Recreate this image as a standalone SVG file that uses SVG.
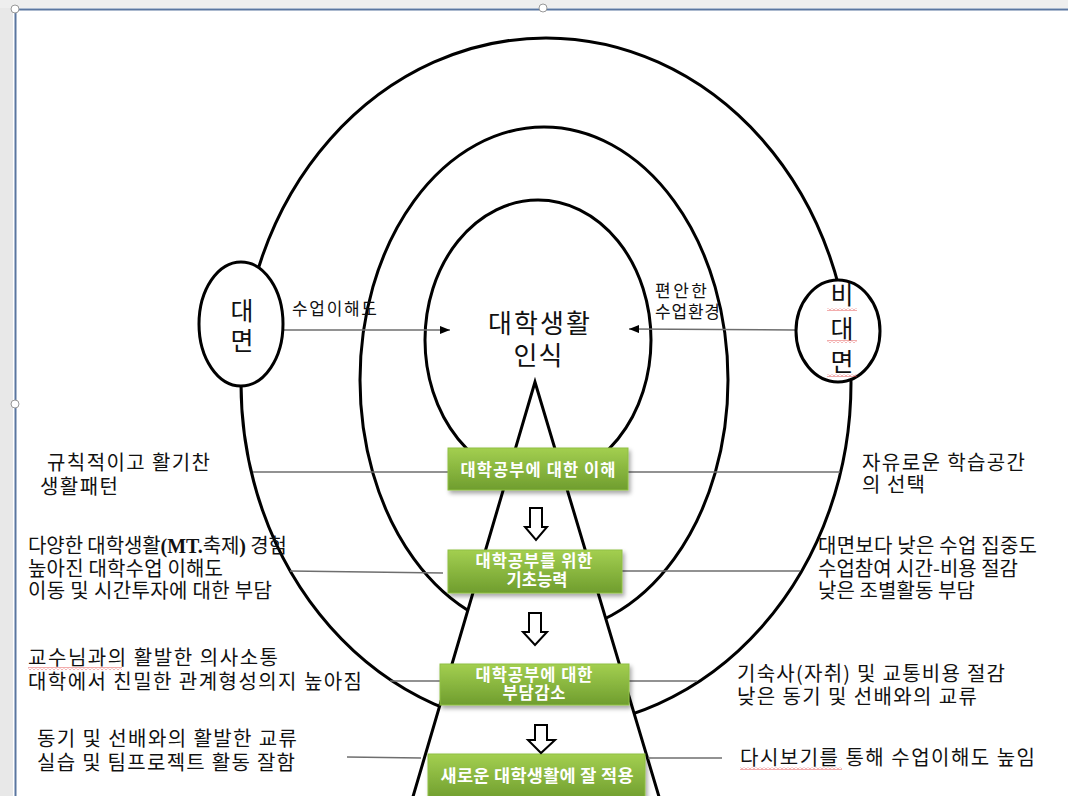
<svg xmlns="http://www.w3.org/2000/svg" width="1068" height="796" viewBox="0 0 1068 796">
<defs>
<style>
.ring{fill:none;stroke:#000;stroke-width:3}
.side{font-family:"Noto Sans CJK KR","Noto Sans CJK SC",sans-serif;font-size:20px;fill:#111}
.lbl{font-family:"Noto Sans CJK KR",sans-serif;font-size:17px;fill:#111}
.big{font-family:"Noto Sans CJK KR",sans-serif;font-size:26px;fill:#111;text-anchor:middle}
.bt{font-family:"Noto Sans CJK KR",sans-serif;font-size:16.5px;font-weight:bold;fill:#fff;text-anchor:middle}
.conn{stroke:#6e6e6e;stroke-width:1.5;fill:none}
.box{fill:url(#g);stroke:#8fbf45;stroke-width:1;filter:url(#sh)}
.harr{fill:#fff;stroke:#000;stroke-width:2}
.ser{font-family:"Liberation Serif",serif;font-weight:bold}
</style>
<linearGradient id="g" x1="0" y1="0" x2="0" y2="1">
<stop offset="0" stop-color="#a3cf50"/>
<stop offset="1" stop-color="#6f9d2e"/>
</linearGradient>
<filter id="sh" x="-10%" y="-20%" width="130%" height="160%">
<feDropShadow dx="2" dy="3" stdDeviation="2" flood-color="#000" flood-opacity="0.35"/>
</filter>
<marker id="ah" markerWidth="10" markerHeight="8" refX="10" refY="4" orient="auto" markerUnits="userSpaceOnUse">
<path d="M0,0 L10,4 L0,8 Z" fill="#000"/>
</marker>
<pattern id="wave" width="4" height="3" patternUnits="userSpaceOnUse">
<path d="M0,2.5 L2,0.5 L4,2.5" fill="none" stroke="#e03030" stroke-width="0.8"/>
</pattern>
</defs>
<rect width="1068" height="796" fill="#fff"/>
<rect x="0" y="0" width="13" height="796" fill="#e8e8e8"/>
<rect x="0" y="0" width="1068" height="8" fill="#eeeeee"/>
<line x1="15" y1="9.5" x2="1068" y2="9.5" stroke="#5a76a0" stroke-width="2"/>
<line x1="15.5" y1="9" x2="15.5" y2="796" stroke="#5a76a0" stroke-width="2"/>
<circle cx="15" cy="9" r="4" fill="#fff" stroke="#999"/>
<circle cx="543" cy="8" r="4" fill="#fff" stroke="#999"/>
<circle cx="15" cy="404" r="4" fill="#fff" stroke="#999"/>

<g id="rings">
<ellipse id="outer" class="ring" cx="546" cy="383" rx="305" ry="345"/>
<ellipse id="middle" class="ring" cx="544" cy="380" rx="184" ry="253"/>
<ellipse id="inner" class="ring" cx="538" cy="340" rx="113" ry="140"/>
</g>
<g id="funnel">
<path d="M535,382 L412,800 L660,800 Z" fill="#fff" stroke="#000" stroke-width="3" stroke-linejoin="miter"/>
</g>

<g id="connectors">
<line class="conn" x1="283" y1="330" x2="450" y2="330" marker-end="url(#ah)"/>
<line class="conn" x1="795" y1="330" x2="629" y2="329" marker-end="url(#ah)"/>
<line class="conn" x1="253" y1="472" x2="448" y2="472"/>
<line class="conn" x1="628" y1="472" x2="840" y2="472"/>
<line class="conn" x1="290" y1="571" x2="443" y2="573"/>
<line class="conn" x1="622" y1="571" x2="800" y2="571"/>
<line class="conn" x1="390" y1="681" x2="440" y2="681"/>
<line class="conn" x1="629" y1="681" x2="697" y2="681"/>
<line class="conn" x1="347" y1="757" x2="421" y2="758"/>
<line class="conn" x1="648" y1="758" x2="722" y2="758"/>
</g>

<g id="face">
<ellipse cx="241" cy="324" rx="42" ry="62" fill="#fff" stroke="#000" stroke-width="3"/>
<text class="big" x="242" y="320" style="font-size:25px">대</text>
<text class="big" x="242" y="350" style="font-size:25px">면</text>
</g>
<g id="nonface">
<ellipse cx="838" cy="331" rx="42" ry="51" fill="#fff" stroke="#000" stroke-width="3"/>
<text class="big" x="842" y="304" style="font-size:25px">비</text>
<text class="big" x="842" y="338" style="font-size:25px">대</text>
<text class="big" x="842" y="371" style="font-size:25px">면</text>
<rect x="827" y="308" width="30" height="3" fill="url(#wave)"/>
<rect x="827" y="340" width="30" height="3" fill="url(#wave)"/>
<rect x="827" y="374" width="30" height="3" fill="url(#wave)"/>
</g>

<g id="label-left"><text class="lbl" x="292" y="315" textLength="85">수업이해도</text></g>
<g id="label-right"><text class="lbl" x="655" y="297" textLength="52">편안한</text><text class="lbl" x="655" y="318" textLength="65">수업환경</text></g>

<g id="center">
<text class="big" x="539" y="333" textLength="102">대학생활</text>
<text class="big" x="538" y="365" textLength="49">인식</text>
</g>

<g id="step1">
<rect class="box" x="448" y="448" width="180" height="42"/>
<text class="bt" x="538" y="476" textLength="155">대학공부에 대한 이해</text>
</g>
<g id="step2">
<rect class="box" x="448" y="550" width="174" height="43"/>
<text class="bt" x="534" y="567" textLength="117">대학공부를 위한</text>
<text class="bt" x="537" y="586" textLength="61">기초능력</text>
</g>
<g id="step3">
<rect class="box" x="440" y="664" width="189" height="41"/>
<text class="bt" x="534" y="681" textLength="117">대학공부에 대한</text>
<text class="bt" x="534" y="699" textLength="63">부담감소</text>
</g>
<g id="step4">
<rect class="box" x="428" y="754" width="217" height="46"/>
<text class="bt" x="537" y="782" style="font-size:17.5px" textLength="193">새로운 대학생활에 잘 적용</text>
</g>

<g id="arrows">
<path class="harr" d="M530,508 H542 V527 H547 L536,540 L525,527 H530 Z"/>
<path class="harr" d="M529,613 H541 V632 H547 L535,645 L523,632 H529 Z"/>
<path class="harr" d="M535,725 H547 V740 H555 L541,753 L528,740 H535 Z"/>
</g>

<g id="left-texts">
<text class="side" x="47" y="470" textLength="163">규칙적이고 활기찬</text>
<text class="side" x="40" y="494" textLength="78">생활패턴</text>
<text class="side" x="28" y="553" textLength="259">다양한 대학생활<tspan class="ser">(MT.</tspan>축제<tspan class="ser">)</tspan> 경험</text>
<text class="side" x="28" y="576" textLength="195">높아진 대학수업 이해도</text>
<text class="side" x="28" y="598" textLength="244">이동 및 시간투자에 대한 부담</text>
<text class="side" x="28" y="665" textLength="250">교수님과의 활발한 의사소통</text>
<rect x="28" y="667" width="94" height="3" fill="url(#wave)"/>
<text class="side" x="28" y="689" textLength="334">대학에서 친밀한 관계형성의지 높아짐</text>
<text class="side" x="37" y="746" textLength="260">동기 및 선배와의 활발한 교류</text>
<text class="side" x="37" y="770" textLength="258">실습 및 팀프로젝트 활동 잘함</text>
</g>

<g id="right-texts">
<text class="side" x="862" y="470" textLength="163">자유로운 학습공간</text>
<text class="side" x="862" y="492" textLength="63">의 선택</text>
<text class="side" x="818" y="553" textLength="219">대면보다 낮은 수업 집중도</text>
<text class="side" x="818" y="576" textLength="200">수업참여 시간-비용 절감</text>
<text class="side" x="818" y="598" textLength="157">낮은 조별활동 부담</text>
<text class="side" x="737" y="681" textLength="268">기숙사(자취) 및 교통비용 절감</text>
<text class="side" x="737" y="704" textLength="240">낮은 동기 및 선배와의 교류</text>
<text class="side" x="740" y="765" textLength="295">다시보기를 통해 수업이해도 높임</text>
<rect x="740" y="767" width="102" height="3" fill="url(#wave)"/>
</g>
</svg>
